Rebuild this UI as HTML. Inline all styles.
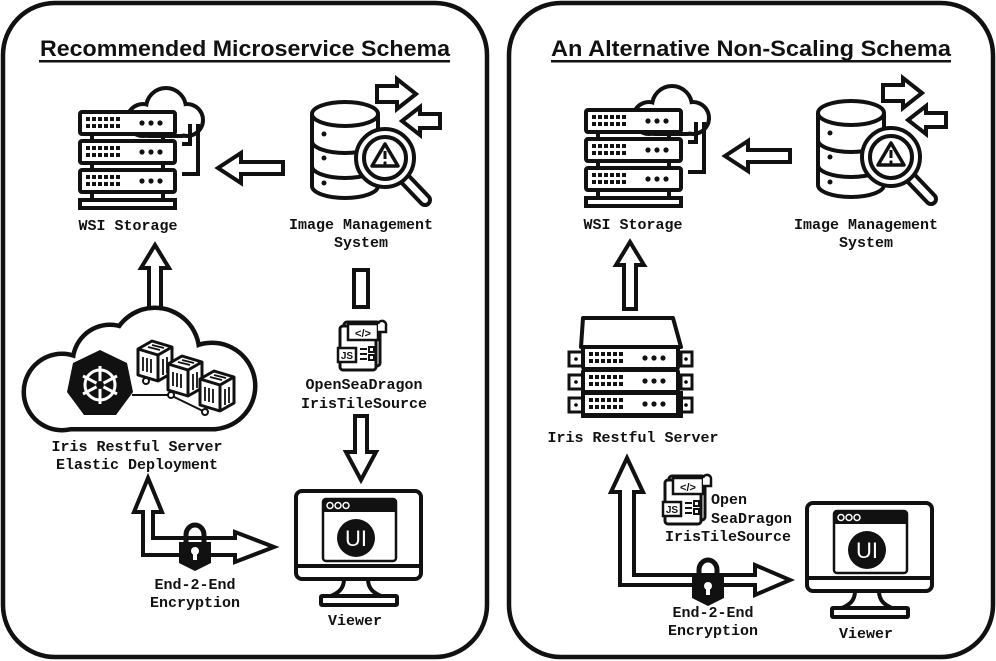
<!DOCTYPE html>
<html><head><meta charset="utf-8"><style>
html,body{margin:0;padding:0;background:#fff;}
svg{display:block}
.lbl{font-family:"Liberation Mono",monospace;font-weight:bold;font-size:15px;fill:#111;text-anchor:middle}
.ttl{font-family:"Liberation Sans",sans-serif;font-weight:bold;font-size:22px;fill:#111;text-anchor:middle}
</style></head><body>
<svg width="996" height="661" viewBox="0 0 996 661" xmlns="http://www.w3.org/2000/svg">
<defs>
  <g id="unit">
    <rect x="0" y="0" width="95" height="22" rx="2" fill="#fff" stroke="#111" stroke-width="4"/>
    <g fill="#111">
      <rect x="6" y="5" width="4" height="4"/><rect x="12" y="5" width="4" height="4"/><rect x="18" y="5" width="4" height="4"/><rect x="24" y="5" width="4" height="4"/><rect x="30" y="5" width="4" height="4"/><rect x="36" y="5" width="4" height="4"/>
      <rect x="6" y="12" width="4" height="4"/><rect x="12" y="12" width="4" height="4"/><rect x="18" y="12" width="4" height="4"/><rect x="24" y="12" width="4" height="4"/><rect x="30" y="12" width="4" height="4"/><rect x="36" y="12" width="4" height="4"/>
      <circle cx="62" cy="11" r="2.6"/><circle cx="71" cy="11" r="2.6"/><circle cx="80" cy="11" r="2.6"/>
    </g>
  </g>
  <g id="wsi">
    <!-- cloud -->
    <g stroke="#111" stroke-width="8" fill="#111">
      <circle cx="63" cy="38" r="14"/><circle cx="86" cy="26" r="18"/><circle cx="107" cy="38" r="14"/><rect x="63" y="36" width="44" height="16" rx="6"/>
    </g>
    <g fill="#fff">
      <circle cx="63" cy="38" r="14"/><circle cx="86" cy="26" r="18"/><circle cx="107" cy="38" r="14"/><rect x="63" y="36" width="44" height="16" rx="6"/>
    </g>
    <use href="#unit" x="0" y="30"/>
    <use href="#unit" x="0" y="59"/>
    <use href="#unit" x="0" y="88"/>
    <rect x="0" y="118" width="95" height="8" fill="#fff" stroke="#111" stroke-width="4"/>
    <path d="M12,52 V59 M83,52 V59 M12,81 V88 M83,81 V88 M12,110 V118 M83,110 V118" stroke="#111" stroke-width="4"/>
    <path d="M102,62 H110 V42 M118,42 V92 H102" fill="none" stroke="#111" stroke-width="4"/>
  </g>
  <g id="ims">
    <!-- db -->
    <path d="M0,20 V92 A33,12 0 0 0 66,92 V20" fill="#fff" stroke="#111" stroke-width="4"/>
    <ellipse cx="33" cy="20" rx="33" ry="12" fill="#fff" stroke="#111" stroke-width="4"/>
    <path d="M0,47 A33,12 0 0 0 66,47 M0,72 A33,12 0 0 0 66,72" fill="none" stroke="#111" stroke-width="4"/>
    <circle cx="12" cy="40" r="2.5" fill="#111"/><circle cx="12" cy="64" r="2.5" fill="#111"/><circle cx="12" cy="89" r="2.5" fill="#111"/>
    <!-- arrows -->
    <path d="M65,-8 H85 V-15 L104,0 L85,15 V8 H65 Z" fill="#fff" stroke="#111" stroke-width="4"/>
    <path d="M128,20 H108 V13 L90,27 L108,41 V34 H128 Z" fill="#fff" stroke="#111" stroke-width="4"/>
    <!-- magnifier -->
    <path d="M92,84 L113,106" stroke="#111" stroke-width="14" stroke-linecap="round"/>
    <path d="M92,84 L113,106" stroke="#fff" stroke-width="6" stroke-linecap="round"/>
    <circle cx="73" cy="64" r="29" fill="#fff" stroke="#111" stroke-width="4"/>
    <circle cx="73" cy="64" r="21" fill="#fff" stroke="#111" stroke-width="4"/>
    <path d="M73,50 L86,72 H60 Z" fill="none" stroke="#111" stroke-width="3.5" stroke-linejoin="round"/>
    <path d="M73,57 V65" stroke="#111" stroke-width="3"/><circle cx="73" cy="69" r="1.6" fill="#111"/>
  </g>
  <g id="js">
    <rect x="6" y="0" width="36" height="44" rx="3" fill="#fff" stroke="#111" stroke-width="3"/>
    <rect x="2" y="4" width="36" height="44" rx="3" fill="#fff" stroke="#111" stroke-width="3"/>
    <rect x="10" y="2" width="30" height="16" fill="#fff" stroke="#111" stroke-width="2.5"/>
    <text x="25" y="15" font-family="Liberation Sans,sans-serif" font-weight="bold" font-size="11" text-anchor="middle" fill="#111">&lt;/&gt;</text>
    <rect x="0" y="26" width="18" height="14" fill="#fff" stroke="#111" stroke-width="2.5"/>
    <text x="9" y="37" font-family="Liberation Sans,sans-serif" font-weight="bold" font-size="10" text-anchor="middle" fill="#111">JS</text>
    <path d="M22,27 H29 M22,32 H29 M22,37 H29" stroke="#111" stroke-width="2"/>
    <rect x="31" y="25" width="5" height="5" fill="none" stroke="#111" stroke-width="2"/><rect x="31" y="33" width="5" height="5" fill="none" stroke="#111" stroke-width="2"/>
    <path d="M40,2 A4,4 0 0 1 48,4 V10 H40" fill="#fff" stroke="#111" stroke-width="2.5"/>
  </g>
  <g id="mon">
    <rect x="0" y="0" width="125" height="88" rx="6" fill="#fff" stroke="#111" stroke-width="4"/>
    <path d="M0,75 H125" stroke="#111" stroke-width="4"/>
    <rect x="27" y="8" width="73" height="62" rx="3" fill="#fff" stroke="#111" stroke-width="2.5"/>
    <rect x="27" y="8" width="73" height="13" rx="2" fill="#111"/>
    <circle cx="34" cy="14.5" r="3" fill="none" stroke="#fff" stroke-width="1.5"/><circle cx="42" cy="14.5" r="3" fill="none" stroke="#fff" stroke-width="1.5"/><circle cx="50" cy="14.5" r="3" fill="none" stroke="#fff" stroke-width="1.5"/>
    <circle cx="60" cy="47" r="19" fill="#111"/>
    <text x="60" y="55" font-family="Liberation Sans,sans-serif" font-size="22" text-anchor="middle" fill="#fff">UI</text>
    <path d="M48,88 C48,98 42,102 35,105 M72,88 C72,98 78,102 85,105" fill="none" stroke="#111" stroke-width="4"/>
    <rect x="25" y="105" width="76" height="9" rx="1" fill="#fff" stroke="#111" stroke-width="4"/>
  </g>
  <g id="lock">
    <path d="M-9,0 V-10 A9,10 0 0 1 9,-10 V0" fill="none" stroke="#111" stroke-width="5"/>
    <path d="M-16,-3 H16 V18 L0,26 L-16,18 Z" fill="#111"/>
    <circle cx="0" cy="6" r="4" fill="#fff"/><rect x="-2" y="6" width="4" height="9" fill="#fff"/>
  </g>
  <g id="box">
    <path d="M0,8 L14,0 L34,6 V32 L20,40 L0,34 Z" fill="#fff" stroke="#111" stroke-width="3" stroke-linejoin="round"/>
    <path d="M0,8 L20,14 L34,6 M20,14 V40" fill="none" stroke="#111" stroke-width="3"/>
    <path d="M5,16 V30 M9,17 V31 M13,18 V32 M25,18 V34 M29,16 V32 M10,6 L22,9 M14,4 L26,7" stroke="#111" stroke-width="1.8"/>
  </g>
</defs>

<!-- panels -->
<rect x="3" y="3" width="484" height="654" rx="52" fill="#fff" stroke="#111" stroke-width="4.5"/>
<rect x="509" y="3" width="484" height="654" rx="52" fill="#fff" stroke="#111" stroke-width="4.5"/>

<!-- LEFT -->
<text class="ttl" x="245" y="56" textLength="410" lengthAdjust="spacingAndGlyphs">Recommended Microservice Schema</text>
<rect x="39" y="60" width="411" height="2.5" fill="#111"/>

<use href="#wsi" x="80" y="82"/>
<text class="lbl" x="128" y="230">WSI Storage</text>
<use href="#ims" x="312" y="94"/>
<text class="lbl" x="361" y="229">Image Management</text>
<text class="lbl" x="361" y="247">System</text>

<g fill="#fff" stroke="#111" stroke-width="4" stroke-linejoin="miter">
  <path transform="translate(283,168) rotate(180)" d="M0,-6 H42 V-15 L65,0 L42,15 V6 H0 Z"/>
  <path transform="translate(155,312) rotate(-90)" d="M0,-6 H44 V-14 L67,0 L44,14 V6 H0 Z"/>
  <path d="M356,272 V306 M366,272 V306" fill="none"/>
  <path transform="translate(361,416) rotate(90)" d="M0,-6 H36 V-15 L64,0 L36,15 V6 H0 Z"/>
</g>
<rect x="354" y="270" width="14" height="37" fill="#fff" stroke="#111" stroke-width="4"/>
<rect x="357" y="273" width="8" height="31" fill="#fff"/>

<use href="#js" x="338" y="322"/>
<text class="lbl" x="364" y="389">OpenSeaDragon</text>
<text class="lbl" x="364" y="408">IrisTileSource</text>

<!-- k8s cloud -->
<g stroke="#111" stroke-width="9" fill="#111">
  <circle cx="62" cy="392" r="36"/><circle cx="110" cy="362" r="35"/><circle cx="155" cy="352" r="42"/><circle cx="212" cy="386" r="41"/><rect x="62" y="372" width="150" height="55"/>
</g>
<g fill="#fff">
  <circle cx="62" cy="392" r="36"/><circle cx="110" cy="362" r="35"/><circle cx="155" cy="352" r="42"/><circle cx="212" cy="386" r="41"/><rect x="62" y="372" width="150" height="55"/>
</g>
<polygon points="100,350 127,363 133,392 116,415 84,415 67,392 73,363" fill="#111"/>
<g stroke="#fff" stroke-width="3" fill="none">
  <circle cx="100" cy="385" r="15"/>
  <path d="M100,366 V404 M83,376 L117,394 M83,394 L117,376"/>
</g>
<circle cx="100" cy="385" r="4" fill="#111"/>
<path d="M132,395 H170 L205,412 M145,383 V381 M170,395" stroke="#111" stroke-width="2" fill="none"/>
<circle cx="146" cy="381" r="3" fill="#fff" stroke="#111" stroke-width="2"/><circle cx="171" cy="395" r="3" fill="#fff" stroke="#111" stroke-width="2"/><circle cx="205" cy="412" r="3" fill="#fff" stroke="#111" stroke-width="2"/>
<use href="#box" x="138" y="341"/>
<use href="#box" x="168" y="356"/>
<use href="#box" x="200" y="371"/>
<text class="lbl" x="137" y="451">Iris Restful Server</text>
<text class="lbl" x="137" y="469">Elastic Deployment</text>

<path d="M143,545 V512 H134 L148,478 L162,512 H153 V538 H235 V532 L274,547 L235,562 V555 H143 Z" fill="#fff" stroke="#111" stroke-width="4"/>
<path d="M143,545 V553 H160" fill="none" stroke="#111" stroke-width="0"/>
<use href="#lock" x="195" y="545"/>
<text class="lbl" x="195" y="589">End-2-End</text>
<text class="lbl" x="195" y="607">Encryption</text>

<use href="#mon" x="296" y="491"/>
<text class="lbl" x="355" y="625">Viewer</text>

<!-- RIGHT -->
<text class="ttl" x="751" y="56" textLength="400" lengthAdjust="spacingAndGlyphs">An Alternative Non-Scaling Schema</text>
<rect x="551" y="60" width="400" height="2.5" fill="#111"/>

<use href="#wsi" x="586" y="80"/>
<text class="lbl" x="633" y="229">WSI Storage</text>
<use href="#ims" x="818" y="93"/>
<text class="lbl" x="866" y="229">Image Management</text>
<text class="lbl" x="866" y="247">System</text>
<g fill="#fff" stroke="#111" stroke-width="4">
  <path transform="translate(790,156) rotate(180)" d="M0,-6 H42 V-15 L65,0 L42,15 V6 H0 Z"/>
  <path transform="translate(630,309) rotate(-90)" d="M0,-6 H44 V-14 L67,0 L44,14 V6 H0 Z"/>
</g>

<!-- iris server -->
<path d="M583,318 H673 L681,347 H581 Z" fill="#fff" stroke="#111" stroke-width="4" stroke-linejoin="round"/>
<g>
  <rect x="569" y="352" width="14" height="14" fill="#fff" stroke="#111" stroke-width="3"/><rect x="681" y="352" width="11" height="14" fill="#fff" stroke="#111" stroke-width="3"/>
  <rect x="569" y="375" width="14" height="14" fill="#fff" stroke="#111" stroke-width="3"/><rect x="681" y="375" width="11" height="14" fill="#fff" stroke="#111" stroke-width="3"/>
  <rect x="569" y="398" width="14" height="14" fill="#fff" stroke="#111" stroke-width="3"/><rect x="681" y="398" width="11" height="14" fill="#fff" stroke="#111" stroke-width="3"/>
  <circle cx="576" cy="359" r="1.8"/><circle cx="686" cy="359" r="1.8"/><circle cx="576" cy="382" r="1.8"/><circle cx="686" cy="382" r="1.8"/><circle cx="576" cy="405" r="1.8"/><circle cx="686" cy="405" r="1.8"/>
</g>
<use href="#unit" x="583" y="347"/>
<use href="#unit" x="583" y="370"/>
<use href="#unit" x="583" y="393"/>
<rect x="583" y="393" width="98" height="23" fill="none" stroke="#111" stroke-width="4"/>
<text class="lbl" x="633" y="442">Iris Restful Server</text>

<path d="M620,585 V492 H611 L627,458 L643,492 H634 V575 H790 L790,565 L790,575" fill="none"/>
<path d="M620,585 V492 H611 L627,458 L643,492 H634 V575 H755 V565 L790,580 L755,595 V585 H620 Z" fill="#fff" stroke="#111" stroke-width="4"/>
<use href="#lock" x="708" y="580"/>
<use href="#js" x="663" y="476"/>
<text class="lbl" x="711" y="504" style="text-anchor:start">Open</text>
<text class="lbl" x="711" y="523" style="text-anchor:start">SeaDragon</text>
<text class="lbl" x="728" y="541">IrisTileSource</text>
<text class="lbl" x="713" y="617">End-2-End</text>
<text class="lbl" x="713" y="635">Encryption</text>

<use href="#mon" x="807" y="503"/>
<text class="lbl" x="866" y="638">Viewer</text>
</svg>
</body></html>
